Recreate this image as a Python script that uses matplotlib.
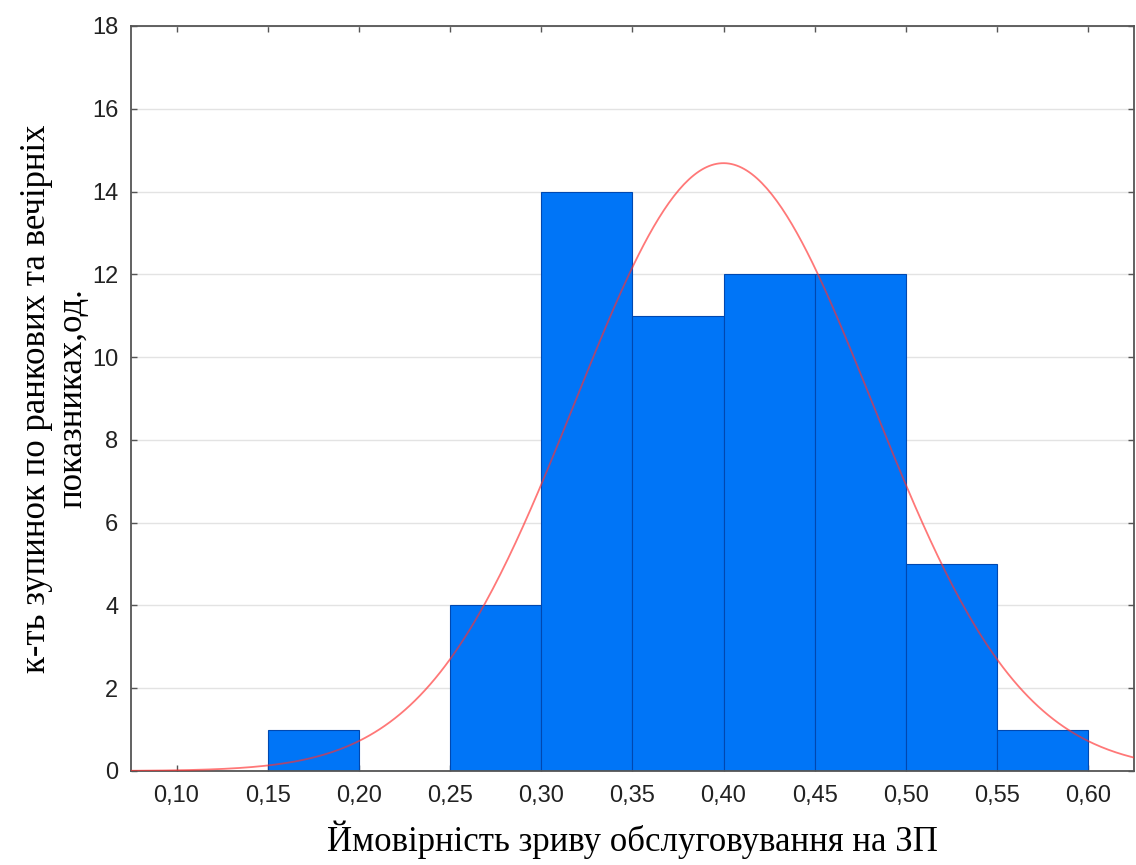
import numpy as np
import matplotlib.pyplot as plt
from matplotlib.ticker import FuncFormatter

# histogram bins (left edges) and counts
bin_left = [0.15, 0.20, 0.25, 0.30, 0.35, 0.40, 0.45, 0.50, 0.55]
counts = [1, 0, 4, 14, 11, 12, 12, 5, 1]
bin_width = 0.05

# fitted normal curve parameters
fit_mean = 0.40
fit_sd = 0.0815

x_ticks = [0.10, 0.15, 0.20, 0.25, 0.30, 0.35, 0.40, 0.45, 0.50, 0.55, 0.60]
y_ticks = [0, 2, 4, 6, 8, 10, 12, 14, 16, 18]

fig = plt.figure(figsize=(11.36, 8.65), dpi=100)
ax = fig.add_axes([0.1153, 0.1087, 0.8827, 0.8613])

ax.bar(bin_left, counts, width=bin_width, align="edge",
       color="#0075F7", edgecolor="#0048B0", linewidth=0.8, zorder=2)

n_total = sum(counts)
xs = np.linspace(0.075, 0.625, 400)
ys = n_total * bin_width / (fit_sd * np.sqrt(2 * np.pi)) * np.exp(-(xs - fit_mean) ** 2 / (2 * fit_sd ** 2))
ax.plot(xs, ys, color="#FF3030", alpha=0.65, linewidth=1.3, zorder=3)

ax.set_xlim(0.075, 0.625)
ax.set_ylim(0, 18)
ax.set_xticks(x_ticks)
ax.set_yticks(y_ticks)
ax.xaxis.set_major_formatter(FuncFormatter(lambda v, p: f"{v:.2f}".replace(".", ",")))
ax.yaxis.set_major_formatter(FuncFormatter(lambda v, p: f"{v:.0f}"))

ax.yaxis.grid(True, color="#E3E3E3", linewidth=1.0, zorder=0)
ax.set_axisbelow(True)

ax.tick_params(direction="in", length=4, width=1, color="#555555",
               top=True, right=True, labelsize=17, labelcolor="#222222")
ax.tick_params(axis="y", pad=9)
ax.tick_params(axis="x", pad=10)
for lbl in ax.get_xticklabels() + ax.get_yticklabels():
    lbl.set_fontfamily("Liberation Sans")

for s in ax.spines.values():
    s.set_color("#555555")
    s.set_linewidth(1.3)

ax.set_xlabel("Ймовірність зриву обслуговування на ЗП",
              fontfamily="Liberation Serif", fontsize=25, labelpad=10)
ax.set_ylabel("к-ть зупинок по ранкових та вечірніх\nпоказниках,од.",
              fontfamily="Liberation Serif", fontsize=25, labelpad=2, linespacing=1.15)

fig.savefig("out.png", dpi=100)
plt.close(fig)
